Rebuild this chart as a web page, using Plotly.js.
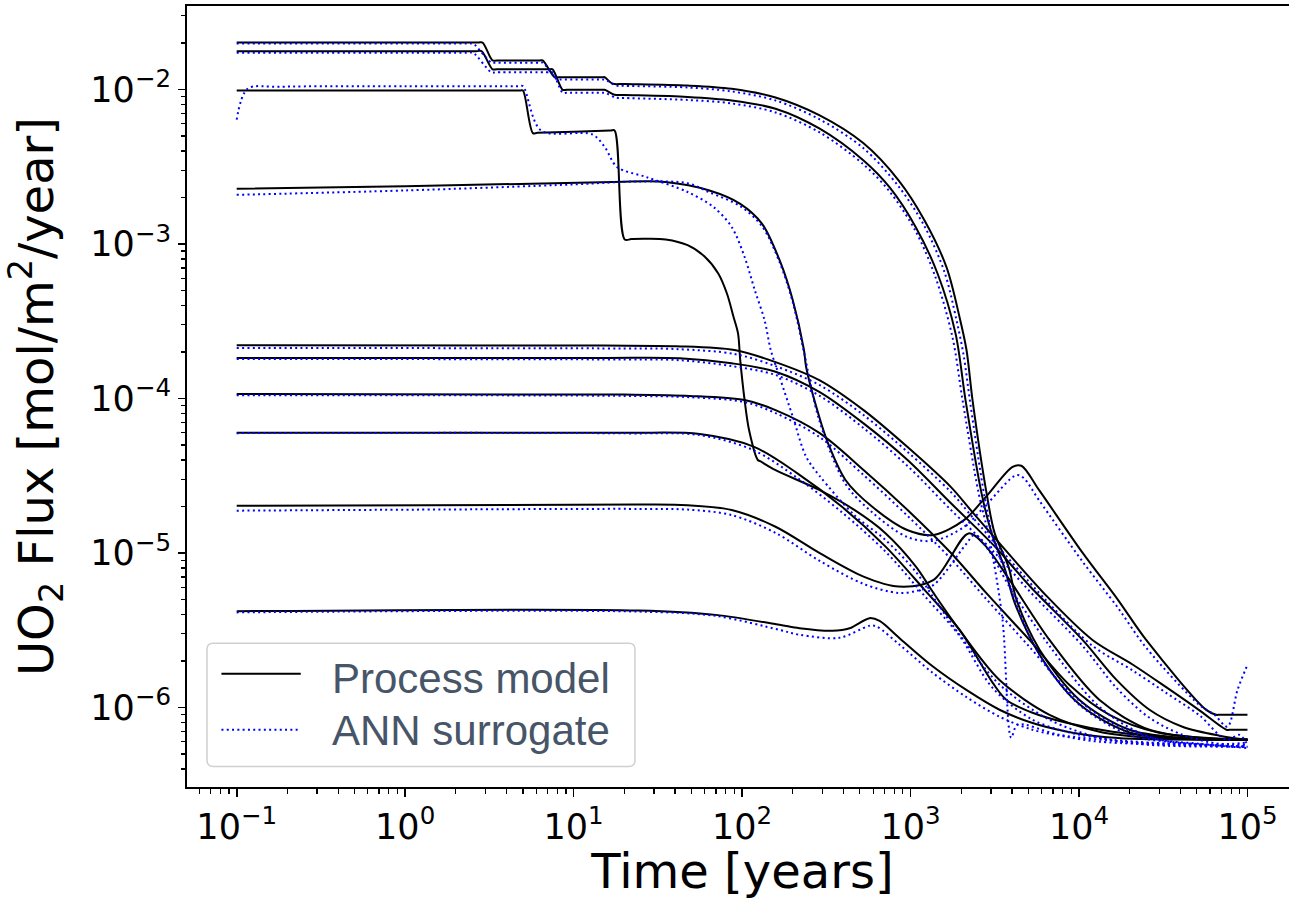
<!DOCTYPE html>
<html><head><meta charset="utf-8">
<script src="https://cdn.plot.ly/plotly-3.0.1.min.js"></script>
<style>html,body{margin:0;padding:0;overflow:hidden;background:#fff}#chart{width:1300px;height:899px}</style>
</head><body><div id="chart"></div><script>
// ---------- Process model (solid black) ----------
const tA = [0.1, 2.7, 2.88, 3.3, 3.5, 6.3, 6.55, 7.71, 8.1, 14.8, 15.3, 17.0, 20, 47.5, 86.7, 158, 289, 526, 849, 1211, 1636, 1954, 2149, 2333, 2825, 3153, 3818, 4258, 5834, 10070, 19940, 39470, 100000];
const fA = [2.01e-2, 2.01e-2, 2.01e-2, 1.54e-2, 1.54e-2, 1.54e-2, 1.54e-2, 1.20e-2, 1.20e-2, 1.20e-2, 1.20e-2, 1.09e-2, 1.085e-2, 1.06e-2, 1.01e-2, 8.87e-3, 6.79e-3, 4.48e-3, 2.58e-3, 1.42e-3, 7.06e-4, 3.36e-4, 2.06e-4, 9.77e-5, 2.45e-5, 1.35e-5, 8.13e-6, 4.98e-6, 2.37e-6, 1.12e-6, 7.18e-7, 6.38e-7, 6.19e-7];
const tB = [0.1, 2.65, 2.84, 3.3, 3.5, 7.2, 7.5, 8.61, 9.1, 14.8, 15.3, 17.5, 20, 47.5, 86.7, 158, 289, 526, 750, 1072, 1446, 1849, 2120, 2636, 3025, 3614, 4142, 5834, 10070, 19940, 39470, 100000];
const fB = [1.77e-2, 1.77e-2, 1.77e-2, 1.35e-2, 1.35e-2, 1.35e-2, 1.35e-2, 9.95e-3, 9.95e-3, 9.95e-3, 9.95e-3, 9.24e-3, 9.2e-3, 8.95e-3, 8.49e-3, 7.50e-3, 5.57e-3, 3.47e-3, 2.33e-3, 1.29e-3, 6.44e-4, 2.64e-4, 9.77e-5, 2.45e-5, 1.35e-5, 8.0e-6, 4.8e-6, 2.2e-6, 1.05e-6, 6.9e-7, 6.3e-7, 6.19e-7];
const tC = [0.1, 4.8, 5.0, 5.73, 6.1, 16.5, 17.5, 20.1, 22, 26, 35.2, 47.5, 60.3, 72.2, 81.3, 89.0, 94.6, 97.5, 103.5, 110, 124, 128, 157, 287, 464, 707, 1076, 1371, 1954, 3373, 6683, 13240, 26200, 100000];
const fC = [9.85e-3, 9.85e-3, 9.85e-3, 5.22e-3, 5.24e-3, 5.42e-3, 5.43e-3, 1.07e-3, 1.075e-3, 1.08e-3, 1.07e-3, 9.82e-4, 8.24e-4, 6.44e-4, 4.78e-4, 3.37e-4, 2.64e-4, 1.77e-4, 9.77e-5, 6.25e-5, 4.0e-5, 3.93e-5, 3.45e-5, 2.56e-5, 1.90e-5, 1.35e-5, 8.17e-6, 5.50e-6, 3.18e-6, 1.51e-6, 8.98e-7, 6.98e-7, 6.38e-7, 6.19e-7];
const tD = [0.1, 1, 17, 35, 64, 97.5, 131.5, 167, 200, 233, 240, 287, 324, 411, 590, 955, 1371, 2085, 2812, 4036, 4550, 5785, 10540, 17030, 25040, 56900, 65200, 68000, 100000];
const fD = [2.28e-3, 2.36e-3, 2.52e-3, 2.52e-3, 2.22e-3, 1.82e-3, 1.35e-3, 7.85e-4, 4.33e-4, 2.06e-4, 1.60e-4, 7.62e-5, 5.13e-5, 2.97e-5, 2.00e-5, 1.41e-5, 1.31e-5, 1.64e-5, 2.32e-5, 3.61e-5, 3.67e-5, 2.56e-5, 9.98e-6, 4.98e-6, 2.74e-6, 9.66e-7, 8.98e-7, 8.98e-7, 8.98e-7];
const tE = [0.1, 15, 40.8, 90.2, 158, 289, 526, 960, 1738, 2350, 6500, 12020, 20790, 33070, 51880, 75040, 78000, 100000];
const fE = [2.21e-4, 2.20e-4, 2.18e-4, 2.06e-4, 1.72e-4, 1.31e-4, 8.41e-5, 4.85e-5, 2.67e-5, 1.82e-5, 5.20e-6, 2.74e-6, 1.90e-6, 1.35e-6, 9.6e-7, 7.18e-7, 7.18e-7, 7.18e-7];
const tF = [0.1, 15, 42.6, 86.7, 158, 289, 526, 960, 1738, 3170, 5130, 10500, 16700, 26200, 41100, 68300, 100000];
const fF = [1.83e-4, 1.83e-4, 1.82e-4, 1.69e-4, 1.49e-4, 1.10e-4, 6.90e-5, 4.00e-5, 2.10e-5, 1.10e-5, 6.07e-6, 2.74e-6, 1.51e-6, 9.68e-7, 7.52e-7, 6.58e-7, 6.19e-7];
const tG = [0.1, 20, 48.7, 103.5, 158, 289, 526, 960, 1738, 2812, 5080, 8790, 15170, 30060, 100000];
const fG = [1.07e-4, 1.06e-4, 1.04e-4, 9.77e-5, 8.41e-5, 5.97e-5, 3.45e-5, 1.90e-5, 1.00e-5, 5.52e-6, 2.74e-6, 1.40e-6, 8.98e-7, 6.87e-7, 6.19e-7];
const tH = [0.1, 20, 56, 117, 213, 390, 711, 1211, 1954, 3069, 3715, 5300, 8430, 15800, 39470, 100000];
const fH = [6.0e-5, 6.0e-5, 5.89e-5, 4.88e-5, 3.28e-5, 2.0e-5, 1.10e-5, 5.78e-6, 3.18e-6, 1.45e-6, 1.12e-6, 9.25e-7, 7.97e-7, 6.98e-7, 6.38e-7, 6.19e-7];
const tI = [0.1, 24.3, 47.5, 86.7, 158, 289, 526, 849, 1371, 2210, 2750, 3870, 6680, 13240, 26200, 51880, 100000];
const fI = [2.02e-5, 2.06e-5, 2.04e-5, 1.90e-5, 1.48e-5, 9.98e-6, 7.04e-6, 6.07e-6, 6.70e-6, 1.34e-5, 1.13e-5, 6.70e-6, 2.74e-6, 1.12e-6, 7.18e-7, 6.38e-7, 6.19e-7];
const tJ = [0.1, 24.3, 69.7, 167, 219, 344, 435, 571, 655, 861, 1352, 2144, 3373, 5300, 8400, 13240, 20790, 100000];
const fJ = [4.2e-6, 4.25e-6, 3.98e-6, 3.43e-6, 3.26e-6, 3.14e-6, 3.26e-6, 3.79e-6, 3.64e-6, 2.81e-6, 1.85e-6, 1.30e-6, 9.68e-7, 7.94e-7, 7.00e-7, 6.50e-7, 6.28e-7, 6.19e-7];

// ---------- ANN surrogate (dotted blue) ----------
const tA_ann = [0.1, 2.4, 2.53, 3.25, 3.45, 6.3, 6.57, 8.0, 8.4, 14.8, 15.3, 17.9, 20, 47.5, 86.7, 158, 289, 526, 849, 1211, 1592, 1875, 2065, 2271, 2750, 3110, 3715, 4258, 5834, 10070, 19940, 39470, 100000];
const fA_ann = [1.98e-2, 1.98e-2, 1.98e-2, 1.49e-2, 1.49e-2, 1.49e-2, 1.49e-2, 1.16e-2, 1.16e-2, 1.16e-2, 1.16e-2, 1.06e-2, 1.055e-2, 1.03e-2, 9.71e-3, 8.49e-3, 6.4e-3, 4.16e-3, 2.36e-3, 1.30e-3, 6.56e-4, 3.21e-4, 1.91e-4, 9.06e-5, 2.31e-5, 1.22e-5, 7.21e-6, 4.61e-6, 2.19e-6, 1.04e-6, 6.66e-7, 5.91e-7, 5.74e-7];
const tB_ann = [0.1, 2.4, 2.53, 3.25, 3.45, 7.2, 7.5, 8.61, 9.1, 14.8, 15.3, 17.9, 20, 47.5, 86.7, 158, 289, 526, 750, 1072, 1406, 1774, 2036, 2534, 2946, 3516, 3962, 4315, 7660, 19940, 100000];
const fB_ann = [1.73e-2, 1.73e-2, 1.73e-2, 1.29e-2, 1.29e-2, 1.29e-2, 1.29e-2, 9.52e-3, 9.52e-3, 9.52e-3, 9.52e-3, 8.84e-3, 8.8e-3, 8.55e-3, 8.12e-3, 7.10e-3, 5.27e-3, 3.27e-3, 2.19e-3, 1.21e-3, 6.10e-4, 2.49e-4, 9.77e-5, 2.45e-5, 1.22e-5, 3.69e-6, 6.38e-7, 7.74e-7, 6.66e-7, 5.98e-7, 5.6e-7];
const tC_ann = [0.1, 0.116, 0.18, 1, 4.7, 5.0, 6.4, 12.9, 15.3, 18.1, 27.0, 47.5, 67.8, 86.7, 103.5, 119, 136, 148, 167, 200, 240, 289, 464, 707, 1076, 1371, 1954, 3373, 6683, 13240, 26200, 100000];
const fC_ann = [6.37e-3, 1.01e-2, 1.04e-2, 1.05e-2, 1.05e-2, 1.05e-2, 5.43e-3, 5.12e-3, 4.24e-3, 3.15e-3, 2.71e-3, 2.17e-3, 1.73e-3, 1.29e-3, 8.24e-4, 5.02e-4, 3.21e-4, 2.06e-4, 1.38e-4, 7.62e-5, 4.20e-5, 3.15e-5, 1.76e-5, 1.22e-5, 7.55e-6, 5.13e-6, 2.96e-6, 1.41e-6, 8.34e-7, 6.38e-7, 5.74e-7, 5.58e-7];
const tD_ann = [0.1, 1, 10, 24.7, 47.5, 64, 98, 131.5, 167, 200, 233, 287, 411, 590, 955, 1371, 2085, 2812, 4258, 4690, 5785, 10540, 17030, 25040, 51880, 63700, 76000, 87300, 100000];
const fD_ann = [2.08e-3, 2.22e-3, 2.43e-3, 2.54e-3, 2.47e-3, 2.16e-3, 1.75e-3, 1.30e-3, 7.62e-4, 4.20e-4, 2.0e-4, 7.24e-5, 2.80e-5, 1.84e-5, 1.27e-5, 1.20e-5, 1.48e-5, 2.05e-5, 3.20e-5, 3.06e-5, 2.20e-5, 8.75e-6, 4.42e-6, 2.44e-6, 1.04e-6, 8.98e-7, 7.52e-7, 1.30e-6, 1.89e-6];
const tE_ann = [0.1, 15, 40.8, 90.2, 158, 289, 526, 960, 1738, 2350, 6500, 12020, 20790, 33070, 51880, 75040, 89700, 100000];
const fE_ann = [2.12e-4, 2.11e-4, 2.09e-4, 1.94e-4, 1.62e-4, 1.22e-4, 7.82e-5, 4.51e-5, 2.48e-5, 1.69e-5, 4.83e-6, 2.51e-6, 1.74e-6, 1.24e-6, 8.9e-7, 6.19e-7, 6.66e-7, 5.74e-7];
const tF_ann = [0.1, 15, 42.6, 86.7, 158, 289, 526, 960, 1738, 3170, 5130, 10500, 16700, 26200, 41100, 68300, 100000];
const fF_ann = [1.80e-4, 1.79e-4, 1.77e-4, 1.62e-4, 1.42e-4, 1.04e-4, 6.44e-5, 3.66e-5, 1.90e-5, 1.0e-5, 5.61e-6, 2.51e-6, 1.34e-6, 8.59e-7, 6.67e-7, 5.83e-7, 5.95e-7];
const tG_ann = [0.1, 20, 48.7, 103.5, 158, 289, 526, 960, 1738, 2812, 5080, 8790, 15170, 30060, 100000];
const fG_ann = [1.05e-4, 1.04e-4, 1.02e-4, 9.48e-5, 8.05e-5, 5.62e-5, 3.20e-5, 1.74e-5, 9.16e-6, 5.05e-6, 2.47e-6, 1.26e-6, 8.09e-7, 6.19e-7, 5.58e-7];
const tH_ann = [0.1, 20, 56, 117, 213, 390, 711, 1211, 1954, 3069, 5300, 8430, 15800, 100000];
const fH_ann = [5.97e-5, 5.95e-5, 5.80e-5, 4.63e-5, 3.06e-5, 1.84e-5, 1.02e-5, 5.28e-6, 2.91e-6, 1.34e-6, 8.34e-7, 6.98e-7, 6.19e-7, 5.58e-7];
const tI_ann = [0.1, 24.3, 47.5, 86.7, 158, 289, 526, 849, 1086, 1371, 2120, 2399, 2946, 3870, 6680, 13240, 26200, 51880, 100000];
const fI_ann = [1.88e-5, 1.93e-5, 1.91e-5, 1.76e-5, 1.35e-5, 8.89e-6, 6.31e-6, 5.52e-6, 5.69e-6, 6.22e-6, 1.13e-5, 1.31e-5, 1.02e-5, 6.04e-6, 2.51e-6, 1.01e-6, 6.45e-7, 5.83e-7, 5.47e-7];
const tJ_ann = [0.1, 24.3, 69.7, 167, 219, 379, 571, 628, 861, 1352, 2144, 3373, 5300, 8430, 13240, 100000];
const fJ_ann = [4.13e-6, 4.18e-6, 3.92e-6, 3.18e-6, 2.96e-6, 2.83e-6, 3.38e-6, 3.35e-6, 2.55e-6, 1.68e-6, 1.17e-6, 8.73e-7, 7.18e-7, 6.47e-7, 6.01e-7, 5.58e-7];

const xTickVals = [0.1, 1, 10, 100, 1000, 10000, 100000];
const xTickText = ['10<sup>\u22121</sup>', '10<sup>0</sup>', '10<sup>1</sup>', '10<sup>2</sup>', '10<sup>3</sup>', '10<sup>4</sup>', '10<sup>5</sup>'];
const yTickVals = [1e-6, 1e-5, 1e-4, 1e-3, 1e-2];
const yTickText = ['10<sup>\u22126</sup>', '10<sup>\u22125</sup>', '10<sup>\u22124</sup>', '10<sup>\u22123</sup>', '10<sup>\u22122</sup>'];
const legendLabels = ['Process model', 'ANN surrogate'];

const processSets = [[tA,fA],[tB,fB],[tC,fC],[tD,fD],[tE,fE],[tF,fF],[tG,fG],[tH,fH],[tI,fI],[tJ,fJ]];
const annSets = [[tA_ann,fA_ann],[tB_ann,fB_ann],[tC_ann,fC_ann],[tD_ann,fD_ann],[tE_ann,fE_ann],[tF_ann,fF_ann],[tG_ann,fG_ann],[tH_ann,fH_ann],[tI_ann,fI_ann],[tJ_ann,fJ_ann]];

const DOT = '2px,3.3px';
const traces = [];
processSets.forEach(s => traces.push({x: s[0], y: s[1], type: 'scatter', mode: 'lines',
  name: legendLabels[0], showlegend: false,
  line: {color: 'black', width: 2, shape: 'spline', smoothing: 0.9}}));
annSets.forEach(s => traces.push({x: s[0], y: s[1], type: 'scatter', mode: 'lines',
  name: legendLabels[1], showlegend: false,
  line: {color: 'blue', width: 2, dash: DOT, shape: 'spline', smoothing: 0.9}}));

const tickFont = {family: 'DejaVu Sans', size: 35, color: 'black'};
const titleFont = {family: 'DejaVu Sans', size: 48, color: 'black'};

// legend box (paper coordinates)
const lx0 = 0.018, lx1 = 0.4032, ly0 = 0.0264, ly1 = 0.1842, rx = 0.0054, ry = 0.0077;
const boxPath = `M${lx0+rx},${ly0} L${lx1-rx},${ly0} Q${lx1},${ly0} ${lx1},${ly0+ry} L${lx1},${ly1-ry} Q${lx1},${ly1} ${lx1-rx},${ly1} L${lx0+rx},${ly1} Q${lx0},${ly1} ${lx0},${ly1-ry} L${lx0},${ly0+ry} Q${lx0},${ly0} ${lx0+rx},${ly0} Z`;

const layout = {
  width: 1300, height: 899,
  margin: {l: 187, r: 2, t: 6, b: 112},
  paper_bgcolor: 'white', plot_bgcolor: 'white',
  showlegend: false,
  xaxis: {
    type: 'log', range: [-1.295, 5.3], autorange: false,
    tickmode: 'array', tickvals: xTickVals, ticktext: xTickText,
    ticks: 'outside', ticklen: 8, tickwidth: 1.6, tickcolor: 'black',
    minor: {ticks: 'outside', ticklen: 5, tickwidth: 1.2, tickcolor: 'black', dtick: 'D1', showgrid: false},
    showline: true, linecolor: 'black', linewidth: 2, mirror: true,
    showgrid: false, zeroline: false, tickfont: tickFont,
    title: {text: 'Time [years]', font: titleFont, standoff: 2}
  },
  yaxis: {
    type: 'log', range: [-6.514, -1.46], autorange: false,
    tickmode: 'array', tickvals: yTickVals, ticktext: yTickText,
    ticks: 'outside', ticklen: 7, tickwidth: 1.6, tickcolor: 'black',
    minor: {ticks: 'outside', ticklen: 4, tickwidth: 1.2, tickcolor: 'black', dtick: 'D1', showgrid: false},
    showline: true, linecolor: 'black', linewidth: 2, mirror: true,
    showgrid: false, zeroline: false, tickfont: tickFont,
    title: {text: 'UO<sub>2</sub> Flux [mol/m<sup>2</sup>/year]', font: titleFont, standoff: 22}
  },
  shapes: [
    {type: 'path', xref: 'paper', yref: 'paper', path: boxPath, fillcolor: 'rgba(255,255,255,0.9)', line: {color: '#d0d0d0', width: 1.5}},
    {type: 'line', xref: 'paper', yref: 'paper', x0: 0.031, x1: 0.1024, y0: 0.1449, y1: 0.1449, line: {color: 'black', width: 2}},
    {type: 'line', xref: 'paper', yref: 'paper', x0: 0.031, x1: 0.1024, y0: 0.0733, y1: 0.0733, line: {color: 'blue', width: 2, dash: DOT}}
  ],
  annotations: [
    {xref: 'paper', yref: 'paper', x: 0.1285, y: 0.139, xanchor: 'left', yanchor: 'middle', showarrow: false,
     text: legendLabels[0], font: {family: 'Liberation Sans', size: 42, color: '#475569'}},
    {xref: 'paper', yref: 'paper', x: 0.1285, y: 0.0729, xanchor: 'left', yanchor: 'middle', showarrow: false,
     text: legendLabels[1], font: {family: 'Liberation Sans', size: 42, color: '#475569'}}
  ]
};

Plotly.newPlot('chart', traces, layout, {displayModeBar: false, staticPlot: true});
</script></body></html>
